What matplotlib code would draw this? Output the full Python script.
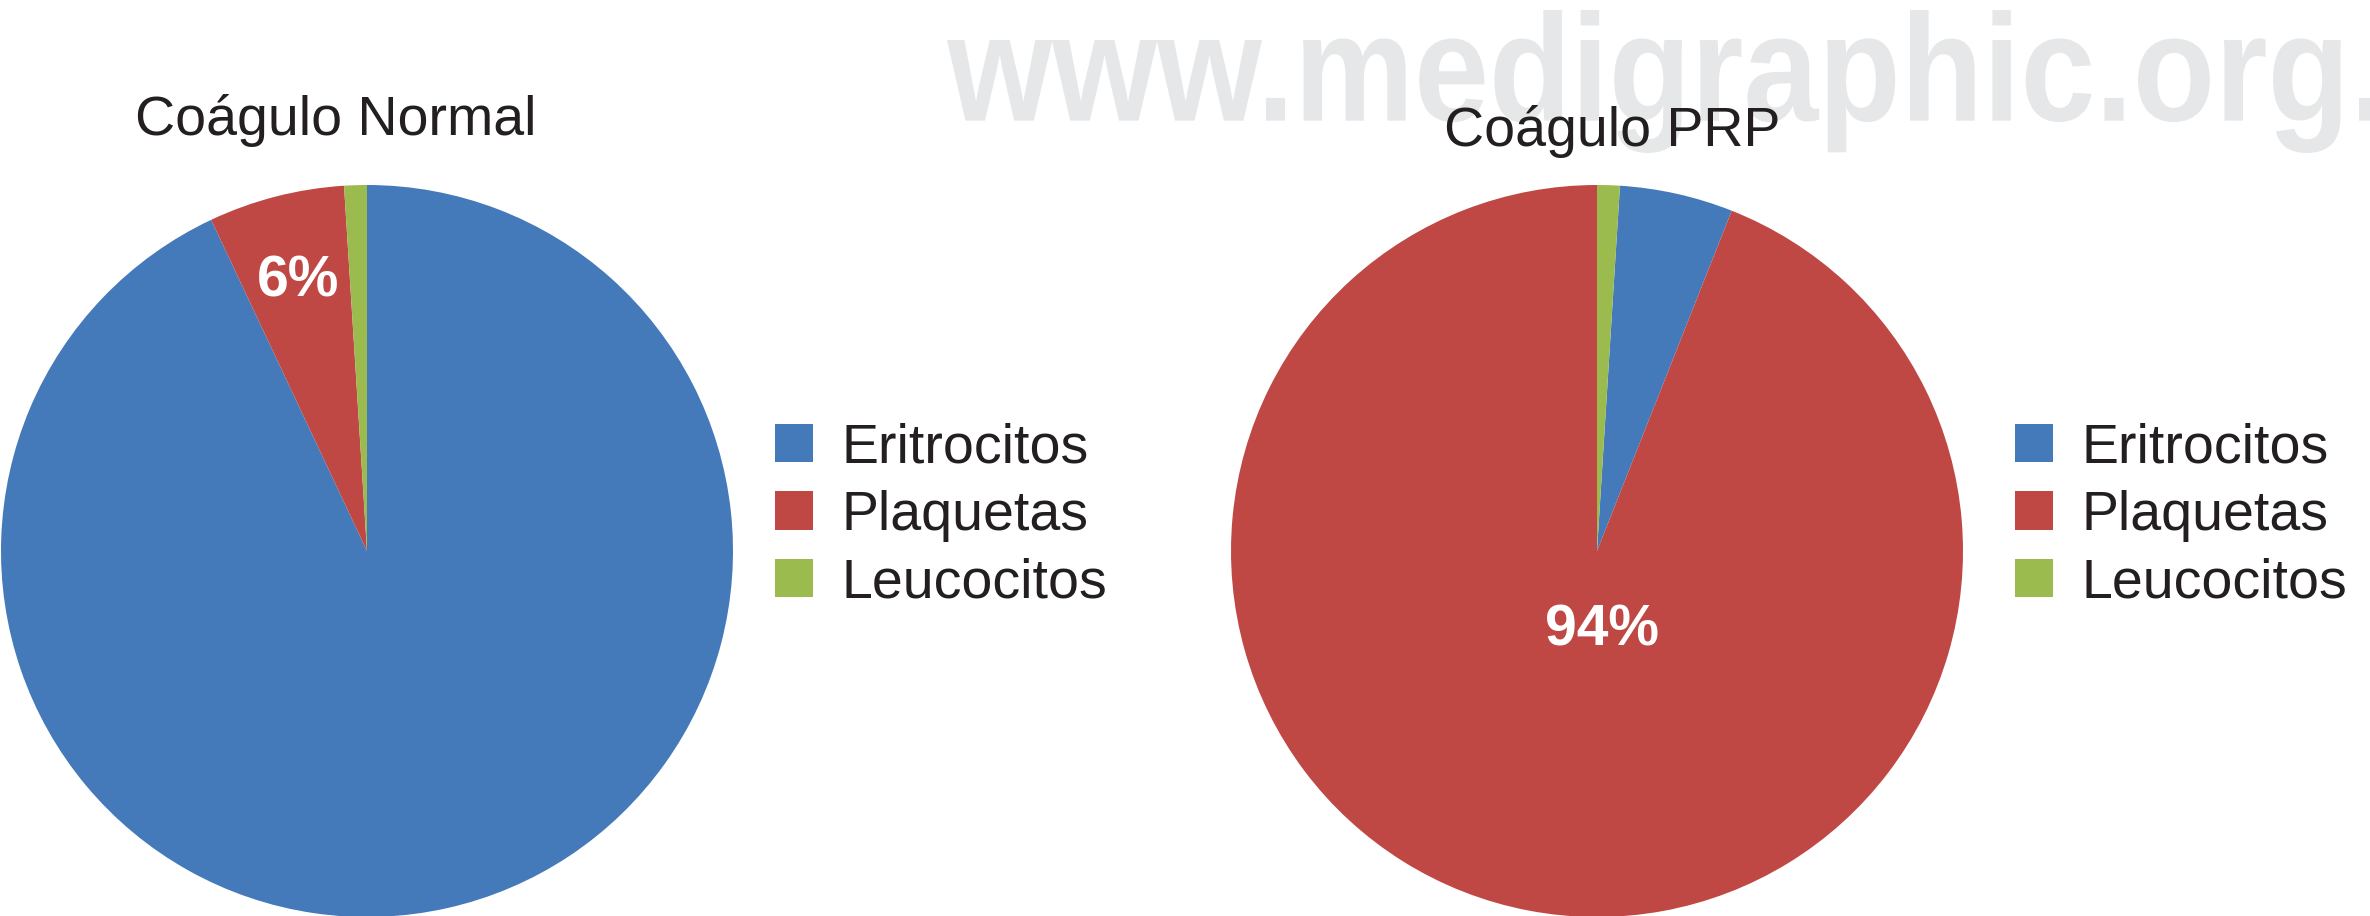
import numpy as np
import matplotlib.pyplot as plt
from matplotlib.textpath import TextPath
from matplotlib.patches import PathPatch
from matplotlib.font_manager import FontProperties
from matplotlib.transforms import Affine2D, ScaledTranslation

plt.rcParams['font.family'] = ['Liberation Sans', 'DejaVu Sans']

# data
labels = ['Eritrocitos', 'Plaquetas', 'Leucocitos']
normal_vals = [93, 6, 1]
prp_vals = [5, 94, 1]
titles = ['Coágulo Normal', 'Coágulo PRP']
colors = ['#4479BA', '#BF4844', '#9BBB4F']
watermark = 'www.medigraphic.org.'

W, H = 2370, 916
fig = plt.figure(figsize=(W / 100, H / 100), dpi=100)

# watermark, squeezed into its box like a condensed font
tp = TextPath((0, 0), watermark, size=100,
              prop=FontProperties(family='Liberation Sans', weight='bold'))
bb = tp.get_extents()
x0, x1 = 947 / W, 2378 / W
y0, y1 = 1 - 153 / H, 1 - 10 / H
tr = Affine2D().translate(-bb.x0, -bb.y0).scale((x1 - x0) / bb.width, (y1 - y0) / bb.height).translate(x0, y0)
fig.add_artist(PathPatch(tr.transform_path(tp), facecolor='#E6E7E8', edgecolor='none',
                         transform=fig.transFigure, zorder=0))

# pies: (center x, center y, radius) in pixels
R = 366
setup = [
    (367, 551, normal_vals, 90, 0.76, 0.0, 336, 135, 775),
    (1597, 551, prp_vals, 90 - 360 * 0.01, 0.22, 0.2, 1612, 146, 2015),
]

for (cx, cy, vals, start, pd, dx, tx, ty, lx), title in zip(setup, titles):
    ax = fig.add_axes([(cx - R) / W, (H - cy - R) / H, 2 * R / W, 2 * R / H], zorder=1)
    ax.patch.set_alpha(0)
    wedges, texts, autotexts = ax.pie(vals, colors=colors, startangle=start, counterclock=False,
                                      autopct='%.0f%%', pctdistance=pd, radius=1,
                                      wedgeprops=dict(linewidth=0))
    for lab, t in zip(labels, autotexts):
        t.set_visible(lab == 'Plaquetas')
        t.set_color('white')
        t.set_fontsize(41)
        t.set_fontweight('bold')
        t.set_transform(t.get_transform() + ScaledTranslation(dx, 0, fig.dpi_scale_trans))
    ax.set_xlim(-1, 1)
    ax.set_ylim(-1, 1)
    ax.set_aspect('equal')
    ax.axis('off')

    fig.text(tx / W, 1 - ty / H, title, ha='center', va='baseline', fontsize=40, color='#231F20', zorder=3)

    fig.legend(wedges, labels, loc='center left', bbox_to_anchor=(lx / W, 1 - 516 / H),
               bbox_transform=fig.transFigure, frameon=False, fontsize=40,
               handlelength=0.68, handleheight=0.68, handletextpad=0.52,
               labelspacing=0.28, borderpad=0, borderaxespad=0, labelcolor='#231F20')

fig.savefig('out.png', dpi=100, facecolor='white')
